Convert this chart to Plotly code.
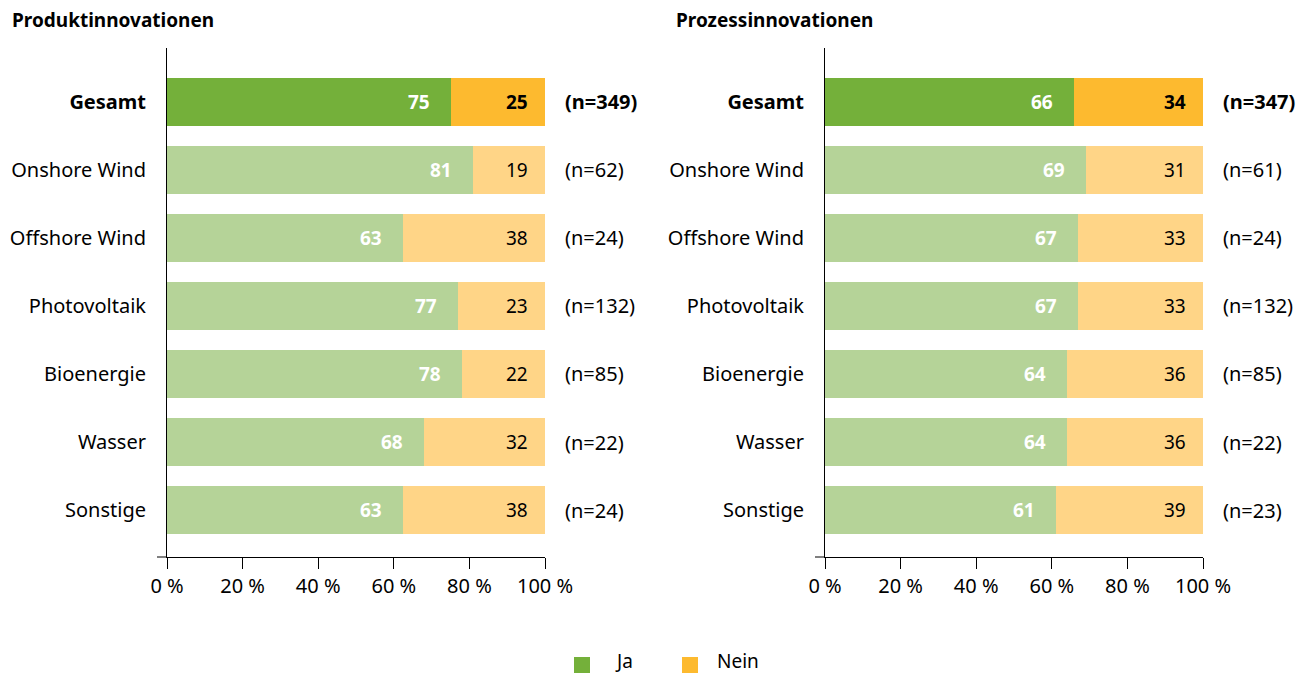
import plotly.graph_objects as go

OFF = 8  # browser body margin
W, H = 1309 - OFF, 675 - OFF

categories = ["Gesamt", "Onshore Wind", "Offshore Wind", "Photovoltaik", "Bioenergie", "Wasser", "Sonstige"]

produkt_ja = [75, 81, 62.5, 77, 78, 68, 62.5]
produkt_nein = [25, 19, 37.5, 23, 22, 32, 37.5]
produkt_n = [349, 62, 24, 132, 85, 22, 24]

prozess_ja = [66, 69, 67, 67, 64, 64, 61]
prozess_nein = [34, 31, 33, 33, 36, 36, 39]
prozess_n = [347, 61, 24, 132, 85, 22, 23]

x_tickvals = [0, 20, 40, 60, 80, 100]
x_ticktext = ["0 %", "20 %", "40 %", "60 %", "80 %", "100 %"]

titles = ["Produktinnovationen", "Prozessinnovationen"]
series_names = ["Ja", "Nein"]

GREEN, GREEN_L = "#74B03A", "#B5D398"
ORANGE, ORANGE_L = "#FDBA2F", "#FFD587"
FONT = "Noto Sans"


def rnd(v):
    return str(int(v + 0.5))


def px2x(p):
    return (p - OFF) / W


def px2y(p):
    return 1 - (p - OFF) / H


fig = go.Figure()

panels = [
    (produkt_ja, produkt_nein, produkt_n, "x", "y", (167, 545)),
    (prozess_ja, prozess_nein, prozess_n, "x2", "y2", (825, 1203)),
]

bold_cats = ["<b>%s</b>" % c if i == 0 else c for i, c in enumerate(categories)]

annotations = []
shapes = []
for pi, (ja, nein, nn, xa, ya, (x0, x1)) in enumerate(panels):
    ja_colors = [GREEN if i == 0 else GREEN_L for i in range(len(categories))]
    nein_colors = [ORANGE if i == 0 else ORANGE_L for i in range(len(categories))]
    fig.add_trace(go.Bar(
        y=categories, x=ja, orientation="h", xaxis=xa, yaxis=ya,
        marker=dict(color=ja_colors, line=dict(width=0)), width=0.7,
        name=series_names[0], showlegend=False, hoverinfo="x+y",
    ))
    fig.add_trace(go.Bar(
        y=categories, x=nein, orientation="h", xaxis=xa, yaxis=ya,
        marker=dict(color=nein_colors, line=dict(width=0)), width=0.7,
        name=series_names[1], showlegend=False, hoverinfo="x+y",
    ))
    for i, c in enumerate(categories):
        b = i == 0
        annotations.append(dict(
            x=ja[i], y=c, xref=xa, yref=ya, xanchor="right", yanchor="middle",
            xshift=-19, showarrow=False,
            text="<b>%s</b>" % rnd(ja[i]),
            font=dict(family=FONT, size=19, color="white"),
        ))
        annotations.append(dict(
            x=ja[i] + nein[i], y=c, xref=xa, yref=ya, xanchor="right", yanchor="middle",
            xshift=-15, showarrow=False,
            text=("<b>%s</b>" if b else "%s") % rnd(nein[i]),
            font=dict(family=FONT, size=19, color="black"),
        ))
        annotations.append(dict(
            x=100, y=c, xref=xa, yref=ya, xanchor="left", yanchor="middle",
            xshift=18, showarrow=False,
            text=("<b>(n=%d)</b>" if b else "(n=%d)") % nn[i],
            font=dict(family=FONT, size=20, color="black"),
        ))
    annotations.append(dict(
        x=px2x(10 if pi == 0 else 674), y=px2y(20), xref="paper", yref="paper",
        xanchor="left", yanchor="middle", showarrow=False,
        text="<b>%s</b>" % titles[pi], font=dict(family=FONT, size=19, color="black"),
    ))
    shapes.append(dict(type="line", xref="paper", yref="paper",
                       x0=px2x(x0 - 10), x1=px2x(x0), y0=px2y(557), y1=px2y(557),
                       line=dict(color="black", width=1)))

# legend (drawn as keys + labels to match placement)
legend_pos = [(574, 614), (682, 716)]
for name, col, (sx, tx) in zip(series_names, [GREEN, ORANGE], legend_pos):
    shapes.append(dict(type="rect", xref="paper", yref="paper",
                       x0=px2x(sx), x1=px2x(sx + 16), y0=px2y(673), y1=px2y(657),
                       fillcolor=col, line=dict(width=0)))
    annotations.append(dict(
        x=px2x(tx), y=px2y(661), xref="paper", yref="paper",
        xanchor="left", yanchor="middle", showarrow=False, borderpad=0,
        text=name, font=dict(family=FONT, size=19, color="black"),
    ))

ydom = [px2y(557), px2y(48)]
common_x = dict(range=[0, 100], tickvals=x_tickvals, ticktext=x_ticktext,
                showline=True, linecolor="black", linewidth=1,
                ticks="outside", ticklen=11, tickcolor="black", tickwidth=1,
                showgrid=False, zeroline=False, fixedrange=True,
                tickfont=dict(family=FONT, size=20, color="black"))
common_y = dict(categoryorder="array", categoryarray=categories[::-1],
                tickvals=categories, ticktext=bold_cats,
                range=[-0.69, 6.79], showline=True, linecolor="black", linewidth=1,
                ticks="", showgrid=False, zeroline=False, fixedrange=True,
                ticklabelstandoff=16,
                tickfont=dict(family=FONT, size=20, color="black"))

fig.update_layout(
    width=W, height=H,
    margin=dict(l=0, r=0, t=0, b=0, autoexpand=False),
    paper_bgcolor="white", plot_bgcolor="white",
    barmode="stack",
    showlegend=False,
    font=dict(family=FONT, size=19, color="black"),
    xaxis=dict(domain=[px2x(167), px2x(545)], anchor="y", automargin=False, **common_x),
    yaxis=dict(domain=ydom, anchor="x", automargin=False, **common_y),
    xaxis2=dict(domain=[px2x(825), px2x(1203)], anchor="y2", automargin=False, **common_x),
    yaxis2=dict(domain=ydom, anchor="x2", automargin=False, **common_y),
    annotations=annotations,
    shapes=shapes,
)

fig.write_html("out.html")
